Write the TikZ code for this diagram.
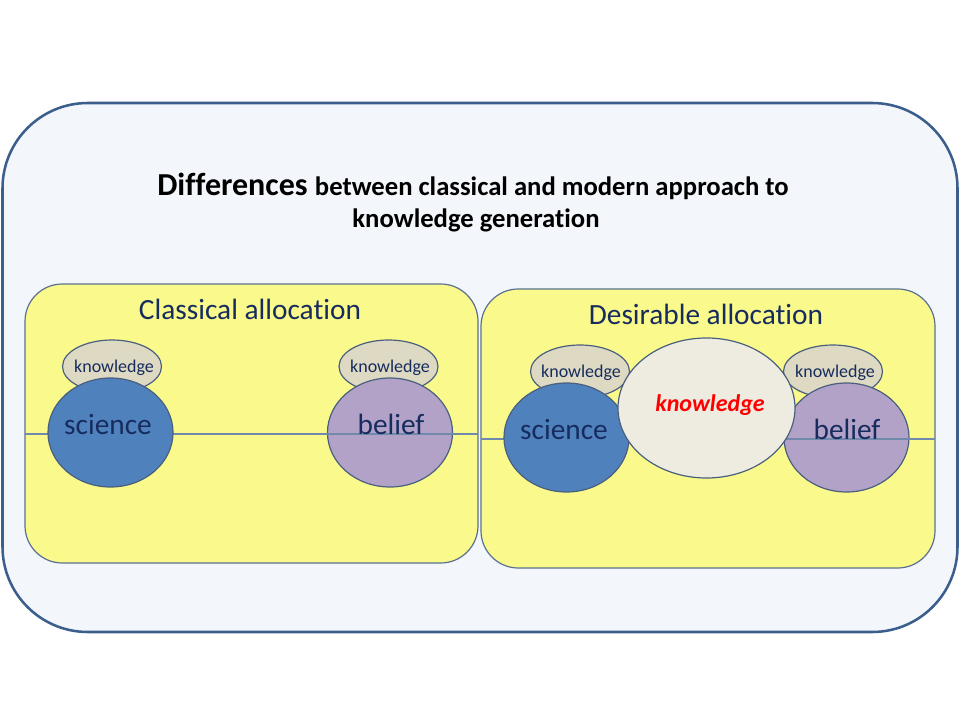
\documentclass[tikz,border=0pt]{standalone}
\usepackage{fontspec}
\setmainfont{Carlito}[Ligatures=NoCommon]
\usetikzlibrary{shapes.geometric}
\definecolor{outerfill}{HTML}{F3F6FB}
\definecolor{outerline}{HTML}{3B5E8C}
\definecolor{yel}{HTML}{FAFA8C}
\definecolor{boxline}{HTML}{5B7090}
\definecolor{sci}{HTML}{4F81BD}
\definecolor{ell}{HTML}{4A5F7E}
\definecolor{bel}{HTML}{B3A2C7}
\definecolor{kn}{HTML}{DDD9C3}
\definecolor{kbig}{HTML}{EEECE1}
\definecolor{navy}{HTML}{172C5E}
\definecolor{midline}{HTML}{7189AA}
\tikzset{
  oval/.style={ellipse, draw=ell, line width=0.9pt, inner sep=0pt},
  smallk/.style={oval, fill=kn, minimum width=99*0.75pt, minimum height=53*0.75pt},
  bigc/.style={oval, minimum width=125*0.75pt, minimum height=109*0.75pt},
  panel/.style={draw=boxline, line width=0.9pt, fill=yel, rounded corners=28pt},
  lab/.style={anchor=base, text=navy, inner sep=0pt},
  smalltxt/.style={lab, font=\fontsize{13.5}{15}\selectfont},
  bigtxt/.style={lab, font=\fontsize{22}{26}\selectfont},
  headtxt/.style={lab, font=\fontsize{22}{26}\selectfont},
  midrule/.style={draw=midline, line width=0.8pt}
}
\begin{document}
\begin{tikzpicture}[x=0.75pt,y=-0.75pt]
\useasboundingbox (0,0) rectangle (960,720);
% outer frame
\node[draw=outerline, line width=1.9pt, fill=outerfill, rounded corners=64pt,
      minimum width=955*0.75pt, minimum height=529*0.75pt, inner sep=0pt] (frame) at (480,367.5) {};
% title
\node[anchor=base, inner sep=0pt] (t1) at (473,196)
  {\bfseries\fontsize{24}{28}\selectfont Differences \fontsize{20}{24}\selectfont between classical and modern approach to};
\node[anchor=base, inner sep=0pt, font=\bfseries\fontsize{20}{24}\selectfont] (t2) at (476,228) {knowledge generation};
% panels
\node[panel, minimum width=453*0.75pt, minimum height=279*0.75pt, inner sep=0pt] (pL) at (251.5,423.5) {};
\node[panel, minimum width=454*0.75pt, minimum height=279*0.75pt, inner sep=0pt] (pR) at (708,428.5) {};
\node[headtxt] (hL) at (250,320) {Classical allocation};
\node[headtxt] (hR) at (706,325) {Desirable allocation};
% left panel
\node[smallk] (kL1) at (112,366.5) {};
\node[smallk] (kL2) at (388.5,366.5) {};
\node[bigc, fill=bel] (belL) at (390,432.5) {};
\coordinate (lineLa) at (25,434);
\coordinate (lineLb) at (478,434);
\draw[midrule] (lineLa) -- (lineLb);
\node[bigc, fill=sci] (sciL) at (110.5,432.5) {};
\node[smalltxt] (tkL1) at (114,372) {knowledge};
\node[smalltxt] (tkL2) at (390,372) {knowledge};
\node[bigtxt] (tsL) at (108,434) {science};
\node[bigtxt] (tbL) at (391,434) {belief};
% right panel
\node[smallk] (kR1) at (580,371.5) {};
\node[smallk] (kR2) at (833,371.5) {};
\node[bigc, fill=bel] (belR) at (846.5,437.5) {};
\coordinate (lineRa) at (481,439);
\coordinate (lineRb) at (935,439);
\draw[midrule] (lineRa) -- (lineRb);
\node[bigc, fill=sci] (sciR) at (566.5,437.5) {};
\node[oval, fill=kbig, minimum width=177*0.75pt, minimum height=140*0.75pt] (kBig) at (706.5,408) {};
\node[smalltxt] (tkR1) at (581,377) {knowledge};
\node[smalltxt] (tkR2) at (835,377) {knowledge};
\node[bigtxt] (tsR) at (564,439) {science};
\node[bigtxt] (tbR) at (847,439) {belief};
\node[lab, text=red, font=\bfseries\itshape\fontsize{18}{21}\selectfont] (tkBig) at (710,411) {knowledge};
\end{tikzpicture}
\end{document}
